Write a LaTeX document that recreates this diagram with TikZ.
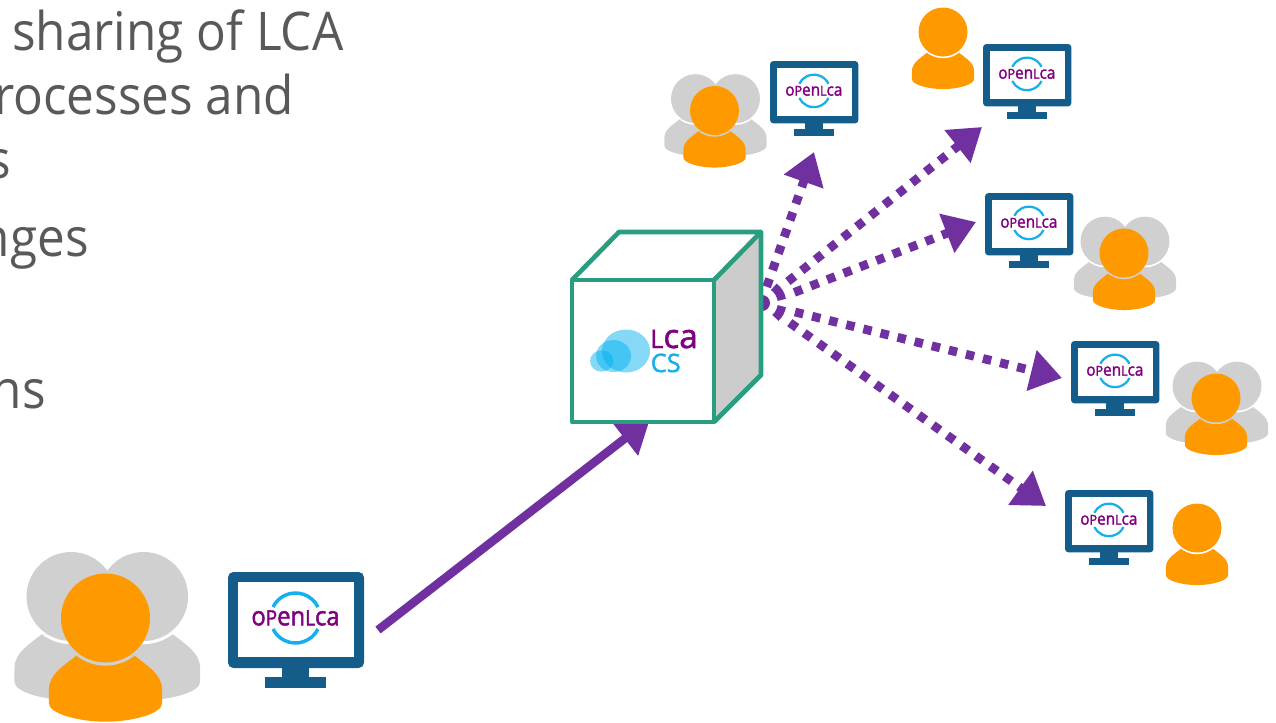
\documentclass[tikz,border=0pt]{standalone}
\usepackage{fontspec}
\setmainfont{Open Sans}
\newfontfamily\headfont{Open Sans}[FakeStretch=0.927]
\newfontfamily\logofont{Open Sans}[FakeBold=1.8,FakeStretch=0.91]
\newfontfamily\lcafont{Open Sans}[FakeBold=1.6]
\usetikzlibrary{arrows.meta}
\definecolor{orangeP}{HTML}{FF9900}
\definecolor{grayP}{HTML}{D0D0D0}
\definecolor{screenB}{HTML}{145C8A}
\definecolor{arrowP}{HTML}{7030A0}
\definecolor{logoP}{HTML}{800080}
\definecolor{logoC}{HTML}{15B0EC}
\definecolor{cubeG}{HTML}{2A9D80}
\definecolor{sideG}{HTML}{CCCCCC}
\definecolor{textG}{HTML}{595959}
\definecolor{cloudC}{HTML}{00B0F0}
\tikzset{
  headline/.style={font=\headfont\fontsize{40}{40}\selectfont, text=textG, inner sep=0pt, anchor=base west},
  solidarrow/.style={draw=arrowP, line width=6.4pt, -{Triangle[length=24pt,width=31pt,fill=arrowP]}},
  dotarrow/.style={draw=arrowP, line width=6.6pt, dash pattern=on 6.4pt off 6.8pt, -{Triangle[length=23.5pt,width=30pt,fill=arrowP]}},
  dotarc/.style={draw=arrowP, line width=6.4pt},
  cubeedge/.style={draw=cubeG, line width=3.5pt, line join=round},
  logotext/.style={inner sep=0pt, text=logoP, anchor=center},
  cloud/.style={fill=cloudC, fill opacity=.48, draw=none}
}
\newcommand{\bodyshape}{(-0.66,0.85) .. controls (-0.9,1.05) and (-1.27,1.25) .. (-1.27,1.6) -- (-1.27,1.92) .. controls (-1.27,2.15) and (-0.6,2.33) .. (0,2.33) .. controls (0.6,2.33) and (1.27,2.15) .. (1.27,1.92) -- (1.27,1.6) .. controls (1.27,1.25) and (0.9,1.05) .. (0.66,0.85) -- cycle}
% x, y, radius, colour, gap colour
\newcommand{\oneperson}[5]{%
  \begin{scope}[shift={(#1,#2)},scale=#3]
    \fill[#4] \bodyshape;
    \begin{scope}
      \clip \bodyshape;
      \fill[#5] (0,0) circle (1.07);
    \end{scope}
    \fill[#4] (0,0) circle (1);
  \end{scope}}
% x, y, radius
\newcommand{\persongroup}[3]{%
  \begin{scope}[shift={(#1,#2)},scale=#3]
    \oneperson{-0.775}{-0.483}{1}{grayP}{white}
    \oneperson{0.855}{-0.483}{1}{grayP}{white}
    \oneperson{0}{0}{1}{orangeP}{grayP}
  \end{scope}}
% name, left, top, scale, font size
\newcommand{\monitor}[5]{%
  \begin{scope}[shift={(#2,#3)},scale=#4]
    \fill[screenB, rounded corners=4pt*#4] (0,0) rectangle (136,96);
    \fill[white] (10,10) rectangle (126,85);
    \fill[screenB] (54,95) rectangle (81,106);
    \fill[screenB] (37,105) rectangle (98,116);
    \draw[logoC, line width=2.6pt*#4] (67.5,46) ++(-26:25) arc (-26:-154:25);
    \draw[logoC, line width=2.6pt*#4] (67.5,46) ++(26:25) arc (26:154:25);
    \node[logotext] (#1) at (67.5,46) {\logofont\fontsize{#5}{#5}\selectfont o{\fontsize{0.8\dimexpr #5pt\relax}{#5}\selectfont P}en{\fontsize{0.8\dimexpr #5pt\relax}{#5}\selectfont L}ca};
  \end{scope}}
\begin{document}
\begin{tikzpicture}[x=0.75pt,y=-0.75pt]
\useasboundingbox (0,0) rectangle (1276,722);
\fill[white] (0,0) rectangle (1276,722);

\begin{scope}
  \clip (0,0) rectangle (1276,722);
  \node[headline] (line1) at (12,50) {sharing of LCA};
  \node[headline] (line2) at (-6,114) {rocesses and};
  \node[headline, anchor=base east] (line3) at (11,178) {s};
  \node[headline, anchor=base east] (line4) at (89,256) {nges};
  \node[headline, anchor=base east] (line5) at (46,408) {ns};

  \persongroup{105.5}{618}{44.5}
  \monitor{logoBig}{228}{572}{1}{19.6}

  \persongroup{714.5}{110.5}{24.5}
  \monitor{logoA}{770}{61}{0.65}{12.7}
  \oneperson{943}{32}{24.5}{orangeP}{white}
  \monitor{logoB}{983}{44}{0.65}{12.7}
  \monitor{logoC}{985}{193}{0.65}{12.7}
  \persongroup{1124}{253}{24.5}
  \monitor{logoD}{1071}{341}{0.65}{12.7}
  \persongroup{1216}{398}{24.5}
  \monitor{logoE}{1065}{490}{0.65}{12.7}
  \oneperson{1197}{528}{24.5}{orangeP}{white}
\end{scope}

% connectors
\coordinate (src) at (378,630);
\coordinate (dst) at (650,419);
\draw[solidarrow] (src) -- (dst);

\coordinate (hub) at (762,303);
\fill[arrowP] (hub) circle (8);
\draw[dotarc] (hub) ++(-54:20) arc (-54:-9:20);
\draw[dotarc] (hub) ++(9:20) arc (9:48:20);
\coordinate (s1) at (766.7,286.8); \coordinate (t1) at (814,152);
\coordinate (s2) at (787.9,281.5); \coordinate (t2) at (982,127);
\coordinate (s3) at (794.3,292.4); \coordinate (t3) at (976,222);
\coordinate (s4) at (795,312);     \coordinate (t4) at (1062,378);
\coordinate (s5) at (789.8,322.7); \coordinate (t5) at (1046,506);
\foreach \i in {1,...,5} \draw[dotarrow] (s\i) -- (t\i);

% cube
\coordinate (fa) at (572,280);
\coordinate (fb) at (714,280);
\coordinate (fc) at (714,422);
\coordinate (fd) at (572,422);
\coordinate (ba) at (619,232);
\coordinate (bb) at (761,232);
\coordinate (bc) at (761,375);
\fill[white] (fa) -- (ba) -- (bb) -- (fb) -- cycle;
\fill[white] (fa) -- (fb) -- (fc) -- (fd) -- cycle;
\fill[sideG] (fb) -- (bb) -- (bc) -- (fc) -- cycle;
\draw[cubeedge] (fa) -- (fb) -- (fc) -- (fd) -- cycle;
\draw[cubeedge] (fa) -- (ba) -- (bb) -- (fb);
\draw[cubeedge] (bb) -- (bc) -- (fc);

% LCA CS logo
\fill[cloud] (626,351) ellipse (24 and 21.5);
\fill[cloud] (613.5,356) ellipse (17.5 and 16);
\fill[cloud] (601.7,361) ellipse (11.7 and 10.7);
\node[inner sep=0pt, anchor=base west, text=logoP, font=\lcafont\fontsize{25}{25}\selectfont] (lca) at (650,348) {{\fontsize{19}{19}\selectfont L}ca};
\node[inner sep=0pt, anchor=base west, text=logoC, font=\lcafont\fontsize{19}{19}\selectfont] (cs) at (650.5,372) {CS};
\end{tikzpicture}
\end{document}
